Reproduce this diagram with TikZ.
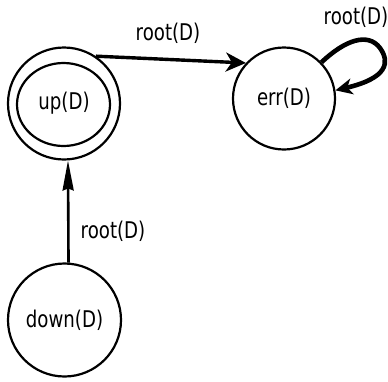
\documentclass[tikz,border=0pt]{standalone}
\usepackage{fontspec}
\setmainfont{DejaVu Sans}[FakeStretch=0.79]
\usetikzlibrary{arrows.meta,shapes.geometric}
\begin{document}
\begin{tikzpicture}[x=1pt,y=-1pt,
  state/.style={circle,draw,line width=2.2pt,inner sep=0pt,font=\fontsize{23}{26}\selectfont},
  lbl/.style={font=\fontsize{23}{26}\selectfont,inner sep=0pt}]
\useasboundingbox (0,0) rectangle (388,381);
\node[state,minimum size=112pt] (up) at (64,103.5) {up(D)};
\node[ellipse,draw,line width=2.2pt,minimum width=93pt,minimum height=83pt,inner sep=0pt] (upin) at (63.5,104.5) {};
\node[state,minimum size=102pt] (err) at (284,98.5) {err(D)};
\node[state,minimum size=113pt] (down) at (64.5,320) {down(D)};
% up -> err
\draw[line width=3.4pt,-{Stealth[length=20pt,width=19pt,inset=6pt]}] (up.56) -- (err.137);
\node[lbl] (l1) at (168,33) {root(D)};
% self loop
\draw[line width=4.6pt,-{Stealth[length=17pt,width=16pt,inset=5pt]}] (err.44) .. controls (345,40) and (368,32) .. (380,48)
  .. controls (390,62) and (388,78) .. (err.9);
\node[lbl] (l2) at (356,17) {root(D)};
% down -> up
\draw[line width=2.6pt,-{Stealth[length=30pt,width=11pt,inset=2pt]}] (down.86) -- (up.274);
\node[lbl] (l3) at (113,231) {root(D)};
\end{tikzpicture}
\end{document}
